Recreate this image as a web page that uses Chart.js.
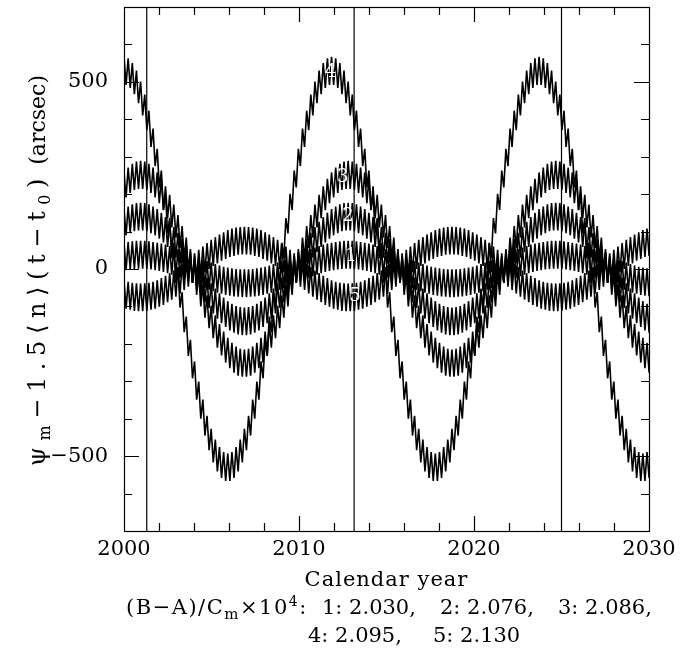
<!DOCTYPE html>
<html><head><meta charset="utf-8">
<script src="https://cdn.jsdelivr.net/npm/chart.js@4/dist/chart.umd.min.js"></script>
<style>html,body{margin:0;padding:0;background:#fff}canvas{display:block}</style>
</head><body>
<canvas id="c" width="694" height="651"></canvas>
<script>
// ---- data ----
const curveNames = ['1', '2', '3', '4', '5'];
const caseValues = ['2.030', '2.076', '2.086', '2.095', '2.130'];
const startYear = 2000;
const sampleStep = 0.1186;   // years between zig-zag vertices (half of the 88-day cycle)
const fastAmp = 37;          // half-height of the 88-day wiggle, arcsec

// slow (long-period) centre of each curve at every zig-zag vertex, arcsec
const curve1 = [33,34,35,36,37,37,38,38,
38,38,38,37,37,36,35,34,33,32,31,29,28,26,24,22,20,18,16,14,12,9,7,5,2,0,-2,-5,-7,-9,-12,-14,-16,-18,-20,-22,-24,-26,-28,-29,-31,-32,-33,-34,-35,-36,-37,-37,-38,-38,-38,-38,-38,-37,-37,-36,-35,-34,-33,-32,-31,-29,-28,-26,-24,-22,-20,-18,-16,-14,-12,-9,-7,-5,-2,0,2,5,7,9,12,14,16,18,20,22,24,26,28,29,31,32,33,34,35,36,37,37,38,38,
38,38,38,37,37,36,35,34,33,32,31,29,28,26,24,22,20,18,16,14,12,9,7,5,2,0,-2,-5,-7,-9,-12,-14,-16,-18,-20,-22,-24,-26,-28,-29,-31,-32,-33,-34,-35,-36,-37,-37,-38,-38,-38,-38,-38,-37,-37,-36,-35,-34,-33,-32,-31,-29,-28,-26,-24,-22,-20,-18,-16,-14,-12,-9,-7,-5,-2,0,2,5,7,9,12,14,16,18,20,22,24,26,28,29,31,32,33,34,35,36,37,37,38,38,
38,38,38,37,37,36,35,34,33,32,31,29,28,26,24,22,20,18,16,14,12,9,7,5,2,0,-2,-5,-7,-9,-12,-14,-16,-18,-20,-22,-24,-26,-28,-29,-31,-32,-33,-34,-35,-36];
const curve2 = [123,127,130,133,136,138,139,140,
140,140,139,138,136,133,130,127,123,118,113,108,102,96,89,82,75,67,60,52,43,35,26,18,9,0,-9,-18,-26,-35,-43,-52,-60,-67,-75,-82,-89,-96,-102,-108,-113,-118,-123,-127,-130,-133,-136,-138,-139,-140,-140,-140,-139,-138,-136,-133,-130,-127,-123,-118,-113,-108,-102,-96,-89,-82,-75,-67,-60,-52,-43,-35,-26,-18,-9,0,9,18,26,35,43,52,60,67,75,82,89,96,102,108,113,118,123,127,130,133,136,138,139,140,
140,140,139,138,136,133,130,127,123,118,113,108,102,96,89,82,75,67,60,52,43,35,26,18,9,0,-9,-18,-26,-35,-43,-52,-60,-67,-75,-82,-89,-96,-102,-108,-113,-118,-123,-127,-130,-133,-136,-138,-139,-140,-140,-140,-139,-138,-136,-133,-130,-127,-123,-118,-113,-108,-102,-96,-89,-82,-75,-67,-60,-52,-43,-35,-26,-18,-9,0,9,18,26,35,43,52,60,67,75,82,89,96,102,108,113,118,123,127,130,133,136,138,139,140,
140,140,139,138,136,133,130,127,123,118,113,108,102,96,89,82,75,67,60,52,43,35,26,18,9,0,-9,-18,-26,-35,-43,-52,-60,-67,-75,-82,-89,-96,-102,-108,-113,-118,-123,-127,-130,-133];
const curve3 = [221,228,234,240,244,248,250,251,
252,251,250,248,244,240,234,228,221,213,204,194,184,173,161,148,135,121,107,93,78,63,47,32,16,0,-16,-32,-47,-63,-78,-93,-107,-121,-135,-148,-161,-173,-184,-194,-204,-213,-221,-228,-234,-240,-244,-248,-250,-251,-252,-251,-250,-248,-244,-240,-234,-228,-221,-213,-204,-194,-184,-173,-161,-148,-135,-121,-107,-93,-78,-63,-47,-32,-16,0,16,32,47,63,78,93,107,121,135,148,161,173,184,194,204,213,221,228,234,240,244,248,250,251,
252,251,250,248,244,240,234,228,221,213,204,194,184,173,161,148,135,121,107,93,78,63,47,32,16,0,-16,-32,-47,-63,-78,-93,-107,-121,-135,-148,-161,-173,-184,-194,-204,-213,-221,-228,-234,-240,-244,-248,-250,-251,-252,-251,-250,-248,-244,-240,-234,-228,-221,-213,-204,-194,-184,-173,-161,-148,-135,-121,-107,-93,-78,-63,-47,-32,-16,0,16,32,47,63,78,93,107,121,135,148,161,173,184,194,204,213,221,228,234,240,244,248,250,251,
252,251,250,248,244,240,234,228,221,213,204,194,184,173,161,148,135,121,107,93,78,63,47,32,16,0,-16,-32,-47,-63,-78,-93,-107,-121,-135,-148,-161,-173,-184,-194,-204,-213,-221,-228,-234,-240];
const curve4 = [
530,529,526,521,513,504,493,480,464,447,429,408,386,363,338,312,284,255,226,195,164,132,99,66,33,0,-33,-66,-99,-132,-164,-195,-226,-255,-284,-312,-338,-363,-386,-408,-429,-447,-464,-480,-493,-504,-513,-521,-526,-529,-530,-529,-526,-521,-513,-504,-493,-480,-464,-447,-429,-408,-386,-363,-338,-312,-284,-255,-226,-195,-164,-132,-99,-66,-33,0,33,66,99,132,164,195,226,255,284,312,338,363,386,408,429,447,464,480,493,504,513,521,526,529,
530,529,526,521,513,504,493,480,464,447,429,408,386,363,338,312,284,255,226,195,164,132,99,66,33,0,-33,-66,-99,-132,-164,-195,-226,-255,-284,-312,-338,-363,-386,-408,-429,-447,-464,-480,-493,-504,-513,-521,-526,-529,-530,-529,-526,-521,-513,-504,-493,-480,-464,-447,-429,-408,-386,-363,-338,-312,-284,-255,-226,-195,-164,-132,-99,-66,-33,0,33,66,99,132,164,195,226,255,284,312,338,363,386,408,429,447,464,480,493,504,513,521,526,529,
530,529,526,521,513,504,493,480,464,447,429,408,386,363,338,312,284,255,226,195,164,132,99,66,33,0,-33,-66,-99,-132,-164,-195,-226,-255,-284,-312,-338,-363,-386,-408,-429,-447,-464,-480,-493,-504,-513,-521,-526,-529,-530,-529,-526,-521];
const curve5 = [-67,-69,-71,-72,-74,-75,-75,-76,
-76,-76,-75,-75,-74,-72,-71,-69,-67,-64,-61,-59,-55,-52,-48,-45,-41,-37,-32,-28,-23,-19,-14,-10,-5,0,5,10,14,19,23,28,32,37,41,45,48,52,55,59,61,64,67,69,71,72,74,75,75,76,76,76,75,75,74,72,71,69,67,64,61,59,55,52,48,45,41,37,32,28,23,19,14,10,5,0,-5,-10,-14,-19,-23,-28,-32,-37,-41,-45,-48,-52,-55,-59,-61,-64,-67,-69,-71,-72,-74,-75,-75,-76,
-76,-76,-75,-75,-74,-72,-71,-69,-67,-64,-61,-59,-55,-52,-48,-45,-41,-37,-32,-28,-23,-19,-14,-10,-5,0,5,10,14,19,23,28,32,37,41,45,48,52,55,59,61,64,67,69,71,72,74,75,75,76,76,76,75,75,74,72,71,69,67,64,61,59,55,52,48,45,41,37,32,28,23,19,14,10,5,0,-5,-10,-14,-19,-23,-28,-32,-37,-41,-45,-48,-52,-55,-59,-61,-64,-67,-69,-71,-72,-74,-75,-75,-76,
-76,-76,-75,-75,-74,-72,-71,-69,-67,-64,-61,-59,-55,-52,-48,-45,-41,-37,-32,-28,-23,-19,-14,-10,-5,0,5,10,14,19,23,28,32,37,41,45,48,52,55,59,61,64,67,69,71,72];

const markerYears = [2001.3, 2013.15, 2025.0];
const xTickYears = [2000, 2010, 2020, 2030];
const yTickValues = [-500, 0, 500];
const labelYears = [2012.97, 2012.8, 2012.5, 2011.8, 2013.2];
const labelValues = [35, 141, 245, 525, -72];

// ---- build chart ----
const FONT = '"DejaVu Serif", "Liberation Serif", serif';
const curves = [curve1, curve2, curve3, curve4, curve5];

const datasets = curves.map((c, i) => ({
  label: curveNames[i],
  data: c.map((v, k) => ({ x: startYear + k * sampleStep, y: v + (k % 2 === 0 ? fastAmp : -fastAmp) })),
  borderColor: '#000', borderWidth: 1.6, pointRadius: 0, tension: 0, fill: false
}));
markerYears.forEach(yr => datasets.push({
  label: 'marker', data: [{ x: yr, y: -700 }, { x: yr, y: 700 }],
  borderColor: '#000', borderWidth: 1.2, pointRadius: 0, fill: false
}));

function drawRun(ctx, parts, x0, base, spacing) {
  let px = x0;
  parts.forEach(p => {
    ctx.font = p.s + 'px ' + FONT;
    ctx.letterSpacing = spacing + 'px';
    ctx.fillText(p.t, px, base + p.dy);
    px += ctx.measureText(p.t).width;
  });
  ctx.letterSpacing = '0px';
  return px;
}
function runWidth(ctx, parts, spacing) {
  let w = 0;
  parts.forEach(p => { ctx.font = p.s + 'px ' + FONT; ctx.letterSpacing = spacing + 'px'; w += ctx.measureText(p.t).width; });
  ctx.letterSpacing = '0px';
  return w;
}

const decor = {
  id: 'decor',
  afterDatasetsDraw(chart) {
    const { ctx, scales: { x, y } } = chart;
    ctx.save();
    ctx.fillStyle = '#fff';
    ctx.font = '18px ' + FONT;
    ctx.textAlign = 'center';
    ctx.textBaseline = 'middle';
    curveNames.forEach((n, i) => ctx.fillText(n, x.getPixelForValue(labelYears[i]), y.getPixelForValue(labelValues[i])));
    ctx.restore();
  },
  afterDraw(chart) {
    const { ctx, chartArea: a, scales: { x, y } } = chart;
    ctx.save();
    ctx.strokeStyle = '#000';
    ctx.lineWidth = 1.2;
    ctx.strokeRect(Math.round(a.left) + 0.5, Math.round(a.top) + 0.5, Math.round(a.right - a.left), Math.round(a.bottom - a.top));
    ctx.beginPath();
    for (let yr = 2002; yr < 2030; yr += 2) {
      const px = Math.round(x.getPixelForValue(yr)) + 0.5;
      const len = yr % 10 === 0 ? 15 : 8;
      ctx.moveTo(px, a.bottom); ctx.lineTo(px, a.bottom - len);
      ctx.moveTo(px, a.top); ctx.lineTo(px, a.top + len);
    }
    for (let v = -600; v <= 600; v += 100) {
      const py = Math.round(y.getPixelForValue(v)) + 0.5;
      const len = v % 500 === 0 ? 15 : 8;
      ctx.moveTo(a.left, py); ctx.lineTo(a.left + len, py);
      ctx.moveTo(a.right, py); ctx.lineTo(a.right - len, py);
    }
    ctx.stroke();

    ctx.fillStyle = '#000';
    ctx.textBaseline = 'alphabetic';
    // x title
    ctx.font = '21px ' + FONT;
    ctx.textAlign = 'center';
    ctx.letterSpacing = '1px';
    ctx.fillText('Calendar year', (a.left + a.right) / 2, 586);
    ctx.letterSpacing = '0px';

    // y title (rotated, with subscripts)
    const cy = (a.top + a.bottom) / 2;
    const mathParts = [
      { t: '\u03C8', s: 24, dy: 0 }, { t: 'm', s: 16, dy: 5 },
      { t: '\u22121.5\u27E8n\u27E9(t\u2212t', s: 24, dy: 0 }, { t: '0', s: 16, dy: 5 },
      { t: ')', s: 24, dy: 0 }
    ];
    const unitParts = [{ t: '(arcsec)', s: 22, dy: 0 }];
    ctx.save();
    ctx.translate(45, cy);
    ctx.rotate(-Math.PI / 2);
    ctx.textAlign = 'left';
    const startL = cy - 466, mathEndL = cy - 172, unitEndL = cy - 75;
    const nat = runWidth(ctx, mathParts, 0);
    const nChars = mathParts.reduce((n, p) => n + [...p.t].length, 0);
    const sp = Math.max(0, (mathEndL - startL - nat) / nChars);
    drawRun(ctx, mathParts, startL, 0, sp);
    const uw = runWidth(ctx, unitParts, 0);
    drawRun(ctx, unitParts, unitEndL - uw, 0, 0);
    ctx.restore();

    // caption
    ctx.textAlign = 'left';
    const b1 = 614, b2 = 642;
    const seq = [{ t: '(B\u2212A)/C', s: 21, dy: 0 }, { t: 'm', s: 15, dy: 5 }, { t: '\u00D710', s: 21, dy: 0 }, { t: '4', s: 14, dy: -8 }, { t: ':', s: 21, dy: 0 }];
    drawRun(ctx, seq, 126, b1, 1.5);
    ctx.font = '21px ' + FONT;
    const col1 = [322, 440, 558], col2 = [308, 433];
    [0, 1, 2].forEach((i, j) => ctx.fillText(curveNames[i] + ': ' + caseValues[i] + ',', col1[j], b1));
    [3, 4].forEach((i, j) => ctx.fillText(curveNames[i] + ': ' + caseValues[i] + (i < 4 ? ',' : ''), col2[j], b2));
    ctx.restore();
  }
};

new Chart(document.getElementById('c'), {
  type: 'line',
  data: { datasets },
  options: {
    responsive: false, animation: false, events: [],
    layout: { padding: { top: 7, right: 45, bottom: 0, left: 0 } },
    plugins: { legend: { display: false }, tooltip: { enabled: false } },
    scales: {
      x: {
        type: 'linear', min: 2000, max: 2030,
        grid: { display: false, drawTicks: false }, border: { display: false },
        afterBuildTicks: s => { s.ticks = xTickYears.map(v => ({ value: v })); },
        afterFit: s => { s.height = 120; s.paddingLeft = 0; s.paddingRight = 0; s.paddingTop = 0; s.paddingBottom = 0; },
        ticks: { padding: 6, color: '#000', font: { family: FONT, size: 21 }, maxRotation: 0, autoSkip: false, callback: v => String(v) }
      },
      y: {
        type: 'linear', min: -700, max: 700,
        grid: { display: false, drawTicks: false }, border: { display: false },
        afterBuildTicks: s => { s.ticks = yTickValues.map(v => ({ value: v })); },
        afterFit: s => { s.width = 124; s.paddingLeft = 0; s.paddingRight = 0; s.paddingTop = 0; s.paddingBottom = 0; },
        ticks: { padding: 16, color: '#000', font: { family: FONT, size: 21 }, autoSkip: false, callback: v => v < 0 ? '\u2212' + Math.abs(v) : String(v) }
      }
    }
  },
  plugins: [decor]
});
</script>
</body></html>
